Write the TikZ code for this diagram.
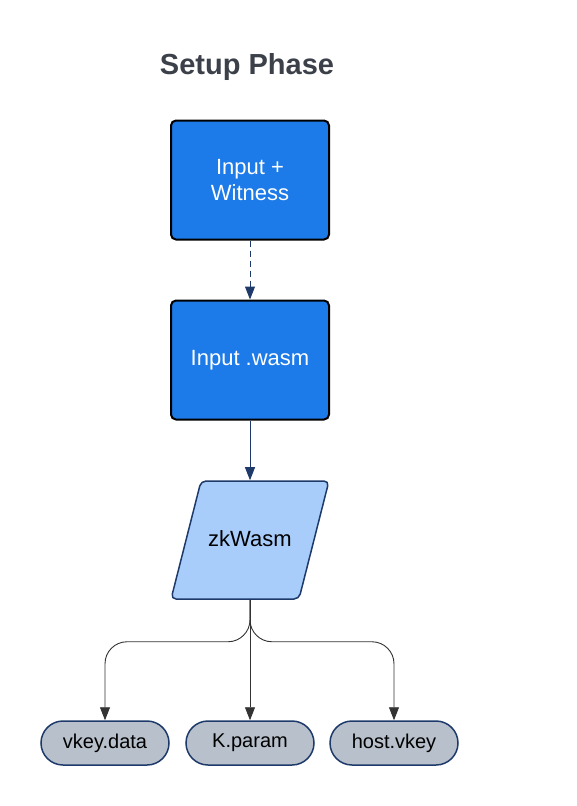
\documentclass[tikz,border=0pt]{standalone}
\usepackage{fontspec}
\setmainfont{Liberation Sans}
\usepackage{xcolor}
\usepackage{tikz}
\usetikzlibrary{shapes.geometric,arrows.meta}
\definecolor{stepblue}{HTML}{1C7AE9}
\definecolor{lightblue}{HTML}{A8CDFB}
\definecolor{navy}{HTML}{1E3A6A}
\definecolor{pillgray}{HTML}{B7C0CB}
\definecolor{titlegray}{HTML}{3B4049}
\tikzstyle{process} = [rectangle, rounded corners=5pt, minimum width = 158pt, minimum height=119pt, text centered, align=center, draw = black, line width=2pt, fill = stepblue, text=white, font=\fontsize{22}{26}\selectfont]
\tikzstyle{io} = [trapezium, trapezium left angle=45, trapezium right angle=135, trapezium stretches=true, rounded corners=5pt, inner sep=4pt, text height=16pt, text depth=4pt, minimum width=158pt, minimum height=118pt, draw = navy, line width=1.5pt, fill = lightblue, font=\fontsize{22}{26}\selectfont]
\tikzstyle{output} = [rectangle, rounded corners=22pt, minimum width = 128pt, minimum height=44pt, draw = navy, line width=1.5pt, fill = pillgray, font=\fontsize{20}{24}\selectfont]
\tikzstyle{arrow} = [line width=1pt, draw=navy, ->, >={Triangle[length=13pt,width=10pt]}]
\tikzstyle{branch} = [line width=0.9pt, draw=black!80, ->, >={Triangle[length=13pt,width=10pt]}, rounded corners=22pt]

\begin{document}
\begin{tikzpicture}[node distance = 180pt]
\useasboundingbox (0,0) rectangle (577pt,-806pt);

\node(title) at (247pt,-67pt) [text=titlegray, font=\fontsize{29}{33}\selectfont\bfseries] {Setup Phase};

\node(input) at (250pt,-180pt) [process] {Input +\\Witness};
\node(wasm) [process, below of = input] {Input .wasm};
\node(zk) [io, below of = wasm] {zkWasm};
\node(kparam) [output, below of = zk, node distance = 203pt] {K.param};
\node(vkey) [output, left of = kparam, node distance = 145pt] {vkey.data};
\node(host) [output, right of = kparam, node distance = 144pt] {host.vkey};

\draw [arrow, dash pattern=on 6pt off 4pt] (input) -- (wasm);
\draw [arrow] (wasm) -- (wasm.south |- zk.north);
\draw [branch] (wasm.south |- zk.south) -- (kparam);
\draw [branch] (wasm.south |- zk.south) -- ++(0,-42pt) -| (vkey);
\draw [branch] (wasm.south |- zk.south) -- ++(0,-42pt) -| (host);

\end{tikzpicture}
\end{document}
